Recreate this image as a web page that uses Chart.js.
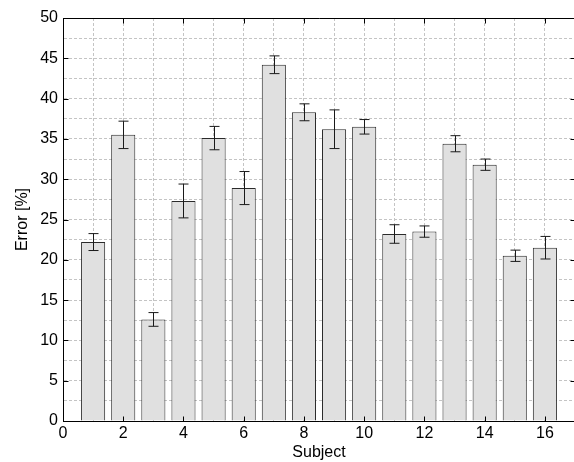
<!DOCTYPE html>
<html>
<head>
<meta charset="utf-8">
<script src="https://cdn.jsdelivr.net/npm/chart.js@4/dist/chart.umd.min.js"></script>
<style>
  html, body { margin: 0; padding: 0; background: #fff; overflow: hidden; }
  canvas { display: block; }
</style>
</head>
<body>
<canvas id="chart" width="578" height="462"></canvas>
<script>
'use strict';
const subjects = [1, 2, 3, 4, 5, 6, 7, 8, 9, 10, 11, 12, 13, 14, 15, 16];
const errorMean = [22.2, 35.5, 12.6, 27.3, 35.1, 28.9, 44.2, 38.3, 36.2, 36.5, 23.2, 23.5, 34.4, 31.8, 20.5, 21.5];
const errorStd = [1.05, 1.7, 0.85, 2.1, 1.45, 2.05, 1.1, 1.05, 2.4, 0.9, 1.15, 0.7, 1.0, 0.7, 0.7, 1.4];
const xTicks = [0, 2, 4, 6, 8, 10, 12, 14, 16];
const yTicks = [0, 5, 10, 15, 20, 25, 30, 35, 40, 45, 50];

const font = { family: "'Liberation Sans', Arial, sans-serif", size: 16 };

// error bars + boxed frame with inward ticks
const frame = {
    id: 'frame',
    afterDatasetsDraw(chart) {
        const { ctx, scales: { x, y } } = chart;
        ctx.save();
        ctx.strokeStyle = '#1a1a1a';
        ctx.lineWidth = 1;
        subjects.forEach((s, i) => {
            const px = Math.round(x.getPixelForValue(s)) + 0.5;
            const top = y.getPixelForValue(errorMean[i] + errorStd[i]);
            const bot = y.getPixelForValue(errorMean[i] - errorStd[i]);
            ctx.beginPath();
            ctx.moveTo(px, top); ctx.lineTo(px, bot);
            ctx.moveTo(px - 5, top); ctx.lineTo(px + 5, top);
            ctx.moveTo(px - 5, bot); ctx.lineTo(px + 5, bot);
            ctx.stroke();
        });
        ctx.restore();
    },
    afterDraw(chart) {
        const { ctx, chartArea: a, scales: { x, y } } = chart;
        ctx.save();
        ctx.strokeStyle = '#000';
        ctx.lineWidth = 1;
        ctx.beginPath();
        const l = Math.round(a.left) + 0.5, r = Math.round(a.right) + 0.5;
        const t = Math.round(a.top) + 0.5, b = Math.round(a.bottom) + 0.5;
        ctx.rect(l, t, r - l, b - t);
        xTicks.forEach(v => {
            const px = Math.round(x.getPixelForValue(v)) + 0.5;
            ctx.moveTo(px, b); ctx.lineTo(px, b - 5);
            ctx.moveTo(px, t); ctx.lineTo(px, t + 5);
        });
        yTicks.forEach(v => {
            const py = Math.round(y.getPixelForValue(v)) + 0.5;
            ctx.moveTo(l, py); ctx.lineTo(l + 5, py);
            ctx.moveTo(r, py); ctx.lineTo(r - 5, py);
        });
        ctx.stroke();
        ctx.restore();
    }
};

new Chart(document.getElementById('chart'), {
    type: 'bar',
    data: {
        datasets: [{
            label: 'Error',
            data: subjects.map((s, i) => ({ x: s, y: errorMean[i] })),
            backgroundColor: '#e0e0e0',
            borderColor: '#2a2a2a',
            borderWidth: 1,
            barPercentage: 0.8,
            categoryPercentage: 1.0
        }]
    },
    options: {
        responsive: false,
        animation: false,
        layout: { padding: { top: 18, right: 2, left: 0, bottom: 0 } },
        plugins: { legend: { display: false }, tooltip: { enabled: false } },
        scales: {
            x: {
                type: 'linear',
                min: 0,
                max: 17,
                offset: false,
                afterFit(scale) { scale.height = 41; },
                ticks: {
                    stepSize: 1,
                    autoSkip: false,
                    maxRotation: 0,
                    padding: 3,
                    color: '#000',
                    font,
                    callback: v => (v % 2 === 0 ? v : '')
                },
                grid: { color: '#c4c4c4', drawTicks: false, offset: false },
                border: { color: '#000', dash: [3, 2] },
                title: { display: true, text: 'Subject', color: '#000', font, padding: { top: 0, bottom: 0 } }
            },
            y: {
                min: 0,
                max: 50,
                afterFit(scale) { scale.width = 63; },
                ticks: {
                    stepSize: 2.5,
                    autoSkip: false,
                    padding: 5,
                    color: '#000',
                    font,
                    callback: v => (v % 5 === 0 ? v : '')
                },
                grid: { color: '#c4c4c4', drawTicks: false },
                border: { color: '#000', dash: [3, 2] },
                title: { display: true, text: 'Error [%]', color: '#000', font, padding: { top: 13, bottom: 0 } }
            }
        }
    },
    plugins: [frame]
});
</script>
</body>
</html>
